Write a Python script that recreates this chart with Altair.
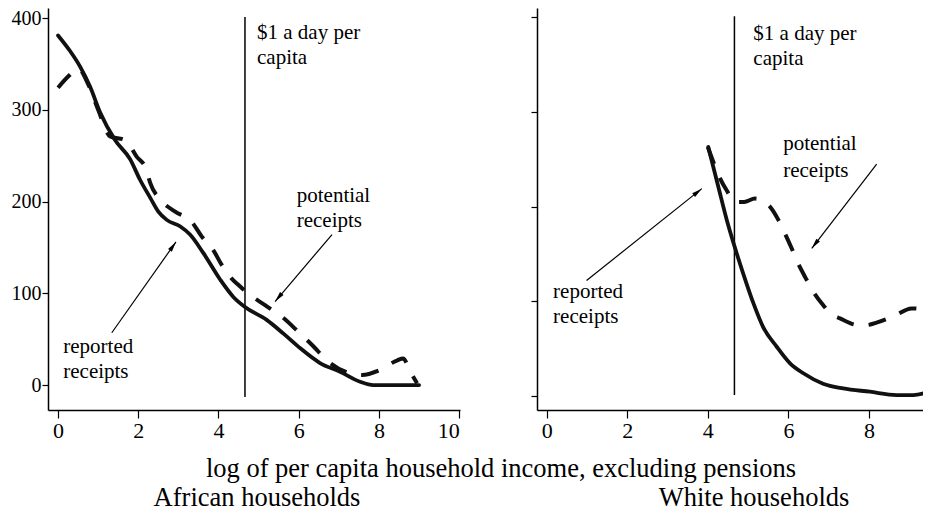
import math
import altair as alt
import pandas as pd

# ---------------- data ----------------
# African households
af_rep_x = [0, 0.3, 0.55, 0.8, 1.05, 1.42, 1.8, 2.04, 2.3, 2.5, 2.71, 3.04, 3.29, 3.62,
            4.04, 4.37, 4.66, 5.2, 5.62, 6.04, 6.53, 7.03, 7.53, 7.86, 8.4, 9.0]
af_rep_y = [381, 364, 347, 325, 297, 267, 246, 224, 204, 189, 180, 173, 164, 144,
            115, 96, 85, 71, 56, 40, 24, 14.5, 3.6, 0, 0, 0]
af_pot_x = [0, 0.27, 0.5, 0.75, 1.0, 1.3, 1.67, 1.96, 2.2, 2.3, 2.55, 2.92, 3.33, 3.58,
            3.87, 4.08, 4.33, 4.5, 4.7, 5.16, 5.62, 5.99, 6.37, 6.7, 7.16, 7.58, 8.0,
            8.46, 8.6, 8.78, 8.95]
af_pot_y = [324, 337, 345, 328, 300, 271, 267, 249, 235, 220, 202, 189, 178, 162,
            147, 131, 116, 109, 101, 87, 73, 58, 42, 27, 14.5, 11, 16,
            27, 29, 14.5, 2]

# White households
wh_rep_x = [4.01, 4.26, 4.47, 4.67, 4.88, 5.13, 5.37, 5.71, 6.04, 6.37, 6.86, 7.36,
            8.02, 8.68, 9.1, 9.38]
wh_rep_y = [263, 221, 186, 157, 129, 98, 73, 52, 34.5, 24, 13, 8,
            4.5, 1, 1, 3]
wh_pot_x = [4.0, 4.12, 4.29, 4.47, 4.67, 4.9, 5.17, 5.54, 5.75, 5.91, 6.08, 6.24,
            6.41, 6.62, 6.86, 7.05, 7.28, 7.73, 7.95, 8.15, 8.6, 9.06, 9.38]
wh_pot_y = [263, 249, 231, 217, 205, 205, 208.5, 200, 186, 172, 156, 140,
            126, 110, 96, 87, 82, 75, 75, 77, 84, 92.5, 91.5]

poverty_line = 4.66
x_ticks_left = [0, 2, 4, 6, 8, 10]
x_ticks_right = [0, 2, 4, 6, 8]
y_ticks = [0, 100, 200, 300, 400]

# annotations (text lines, data coordinates of each line's baseline start)
af_text = ["$1 a day per", "capita", "potential", "receipts", "reported", "receipts"]
af_text_x = [4.96, 4.96, 5.95, 5.95, 0.13, 0.13]
af_text_y = [377, 350, 199.8, 172.5, 34.5, 7.3]
wh_text = ["$1 a day per", "capita", "potential", "receipts", "reported", "receipts"]
wh_text_x = [5.13, 5.13, 5.87, 5.87, 0.16, 0.16]
wh_text_y = [376, 349.5, 259.8, 231.6, 103.5, 76.8]

# arrows: start -> end (head at end)
af_arrow_x = [1.34, 6.83]
af_arrow_y = [57, 164]
af_arrow_x2 = [2.94, 5.41]
af_arrow_y2 = [156, 91]
wh_arrow_x = [0.99, 8.19]
wh_arrow_y = [122, 245]
wh_arrow_x2 = [3.85, 6.58]
wh_arrow_y2 = [219, 156]

# poverty-line rule extent
af_rule_y = [401, -13]
wh_rule_y = [401, 1]

x_title = "log of per capita household income, excluding pensions"
panel_titles = ["African households", "White households"]

# ---------------- layout ----------------
W_L, W_R, H = 412, 386, 402
xdom_L = [-0.25, 10.02]
xdom_R = [-0.24, 9.34]
ydom_L = [-27.2, 410.9]
ydom_R = [-14.8, 409.8]

FONT = "Liberation Serif"
INK = "#111111"
ARROW_SHAPE = "M0,0L0.42,1.9L-0.42,1.9Z"


def panel(rep_x, rep_y, pot_x, pot_y, texts, tx, ty, ax, ay, ax2, ay2, rule_y,
          xdom, ydom, width, xticks, show_ylabels, extra_texts):
    xs = alt.Scale(domain=xdom, nice=False, zero=False)
    ys = alt.Scale(domain=ydom, nice=False, zero=False)
    xaxis = alt.Axis(values=xticks, title=None, labelFontSize=22, tickSize=8,
                     labelPadding=2, format="d")
    if show_ylabels:
        yaxis = alt.Axis(values=y_ticks, title=None, labelFontSize=20, tickSize=6,
                         labelPadding=1, minExtent=40, maxExtent=40, format="d")
    else:
        yaxis = alt.Axis(values=y_ticks, title=None, labels=False, tickSize=6,
                         minExtent=6, maxExtent=6)

    def X(f="x"):
        return alt.X(f"{f}:Q", scale=xs, axis=xaxis)

    def Y(f="y"):
        return alt.Y(f"{f}:Q", scale=ys, axis=yaxis)

    rep = alt.Chart(pd.DataFrame({"x": rep_x, "y": rep_y})).mark_line(
        color=INK, strokeWidth=3.8, interpolate="monotone", strokeCap="round",
        clip=True
    ).encode(x=X(), y=Y())

    pot = alt.Chart(pd.DataFrame({"x": pot_x, "y": pot_y})).mark_line(
        color=INK, strokeWidth=4, interpolate="monotone", strokeDash=[18, 15],
        strokeCap="butt", clip=True
    ).encode(x=X(), y=Y())

    rule = alt.Chart(pd.DataFrame({"x": [poverty_line], "y": [rule_y[0]],
                                   "y2": [rule_y[1]]})).mark_rule(
        color="black", strokeWidth=1.5
    ).encode(x=X(), y=Y(), y2="y2:Q")

    # arrow angles in pixel space
    sx = width / (xdom[1] - xdom[0])
    sy = H / (ydom[1] - ydom[0])
    angles = []
    for a, b, c, d in zip(ax, ay, ax2, ay2):
        dx = (c - a) * sx
        dy = -(d - b) * sy
        angles.append((math.degrees(math.atan2(dx, -dy)) + 360) % 360)
    adf = pd.DataFrame({"x": ax, "y": ay, "x2": ax2, "y2": ay2, "angle": angles})

    shaft = alt.Chart(adf).mark_rule(color="black", strokeWidth=1.2).encode(
        x=X(), y=Y(), x2="x2:Q", y2="y2:Q")
    head = alt.Chart(adf).mark_point(
        shape=ARROW_SHAPE, filled=True, color="black", opacity=1, size=120
    ).encode(x=X("x2"), y=Y("y2"), angle=alt.Angle("angle:Q", scale=None))

    txt = alt.Chart(pd.DataFrame({"t": texts, "x": tx, "y": ty})).mark_text(
        font=FONT, fontSize=21, align="left", baseline="alphabetic", color="black"
    ).encode(x=X(), y=Y(), text="t:N")

    layers = [rule, rep, pot, shaft, head, txt]
    for t, px, py, fs in extra_texts:
        layers.append(
            alt.Chart(pd.DataFrame({"t": [t]})).mark_text(
                font=FONT, fontSize=fs, align="center", baseline="alphabetic",
                color="black"
            ).encode(x=alt.value(px), y=alt.value(py), text="t:N")
        )
    return alt.layer(*layers).properties(width=width, height=H)


left = panel(af_rep_x, af_rep_y, af_pot_x, af_pot_y, af_text, af_text_x, af_text_y,
             af_arrow_x, af_arrow_y, af_arrow_x2, af_arrow_y2, af_rule_y,
             xdom_L, ydom_L, W_L, x_ticks_left, True,
             [(x_title, 453, 469, 26.5), (panel_titles[0], 209, 498, 26.5)])
right = panel(wh_rep_x, wh_rep_y, wh_pot_x, wh_pot_y, wh_text, wh_text_x, wh_text_y,
              wh_arrow_x, wh_arrow_y, wh_arrow_x2, wh_arrow_y2, wh_rule_y,
              xdom_R, ydom_R, W_R, x_ticks_right, False,
              [(panel_titles[1], 217, 498, 26.5)])

chart = alt.hconcat(left, right, spacing=77, bounds="flush").properties(
    padding={"left": 0, "top": 0, "right": 0, "bottom": 0},
    background="white",
).configure_view(stroke=None).configure_axis(
    grid=False, domainColor="black", domainWidth=1.5, tickColor="black",
    tickWidth=1.2, labelFont=FONT, labelColor="black"
).configure_text(font=FONT)

chart.save("out.html", embed_options={"renderer": "svg", "actions": False})
